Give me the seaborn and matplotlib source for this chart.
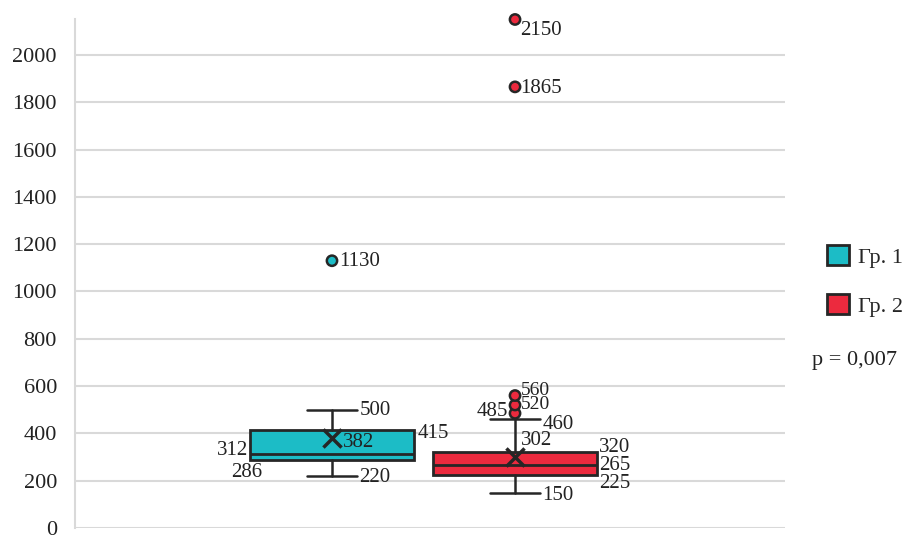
import numpy as np
import pandas as pd
import matplotlib
matplotlib.use("Agg")
import matplotlib.pyplot as plt
import matplotlib.patches as mpatches
import seaborn as sns

groups = ["Гр. 1", "Гр. 2"]
whisker_low = [220, 150]
q1 = [286, 225]
median = [312, 265]
q3 = [415, 320]
whisker_high = [500, 460]
means = [382, 302]
outliers_g1 = [1130]
outliers_g2 = [485, 520, 560, 1865, 2150]
colors = ["#1cbcc6", "#ec2a3e"]
p_text = "p = 0,007"

sns.set_style("white")
plt.rcParams["font.family"] = ["Liberation Serif", "DejaVu Serif"]

fig = plt.figure(figsize=(9.03, 5.36), dpi=100)
ax = fig.add_axes([75 / 903, 8 / 536, 710 / 903, 509 / 536])

stats = []
for i in range(2):
    stats.append(dict(whislo=whisker_low[i], q1=q1[i], med=median[i], q3=q3[i],
                      whishi=whisker_high[i], fliers=[], label=groups[i]))

pos = [0, 1]
bp = ax.bxp(stats, positions=pos, widths=0.9, patch_artist=True, showfliers=False,
            boxprops=dict(edgecolor="#262626", linewidth=2),
            medianprops=dict(color="#262626", linewidth=2),
            whiskerprops=dict(color="#262626", linewidth=1.8),
            capprops=dict(color="#262626", linewidth=1.8),
            capwidths=0.27, zorder=3)
for patch, c in zip(bp["boxes"], colors):
    patch.set_facecolor(c)

out_df = pd.DataFrame({
    "x": [0] * len(outliers_g1) + [1] * len(outliers_g2),
    "y": outliers_g1 + outliers_g2,
    "g": [groups[0]] * len(outliers_g1) + [groups[1]] * len(outliers_g2),
})
sns.scatterplot(data=out_df, x="x", y="y", hue="g", palette=colors, s=55,
                edgecolor="#262626", linewidth=1.8, legend=False, ax=ax, zorder=4,
                clip_on=False)

mean_df = pd.DataFrame({"x": pos, "y": means})
sns.scatterplot(data=mean_df, x="x", y="y", marker="x", s=170, color="#262626",
                linewidth=2.5, legend=False, ax=ax, zorder=5)

fs = 15
lab = dict(fontsize=fs, color="#222222", zorder=6)
small = dict(fontsize=14, color="#222222", zorder=6)
# group 1 labels
ax.text(0.15, whisker_high[0] - 5, "500", ha="left", va="center", **lab)
ax.text(0.47, q3[0] - 15, "415", ha="left", va="center", **lab)
ax.text(0.06, means[0] - 22, "382", ha="left", va="center", **lab)
ax.text(-0.46, median[0] + 15, "312", ha="right", va="center", **lab)
ax.text(-0.38, q1[0] - 50, "286", ha="right", va="center", **lab)
ax.text(0.15, whisker_low[0] - 8, "220", ha="left", va="center", **lab)
ax.text(0.04, outliers_g1[0] - 5, "1130", ha="left", va="center", **lab)
# group 2 labels
ax.text(1.03, 2150 - 45, "2150", ha="left", va="center", **lab)
ax.text(1.03, 1865 - 5, "1865", ha="left", va="center", **lab)
ax.text(1.03, 560 + 22, "560", ha="left", va="center", **small)
ax.text(1.03, 520 + 2, "520", ha="left", va="center", **small)
ax.text(0.96, 485 + 8, "485", ha="right", va="center", **lab)
ax.text(1.15, 460 - 22, "460", ha="left", va="center", **lab)
ax.text(1.03, means[1] + 70, "302", ha="left", va="center", **lab)
ax.text(1.46, q3[1] + 20, "320", ha="left", va="center", **lab)
ax.text(1.46, median[1] - 2, "265", ha="left", va="center", **lab)
ax.text(1.46, q1[1] - 35, "225", ha="left", va="center", **lab)
ax.text(1.15, whisker_low[1] - 13, "150", ha="left", va="center", **lab)

ax.set_xlim(-1.404, 2.475)
ax.set_ylim(0, 2152)
ax.set_yticks(range(0, 2001, 200))
ax.set_xticks([])
ax.set_xlabel("")
ax.set_ylabel("")
ax.tick_params(axis="y", labelsize=16, length=0, pad=13, labelcolor="#222222")
ax.yaxis.grid(True, color="#d9d9d9", linewidth=1.5)
ax.set_axisbelow(True)
for s in ["top", "right", "bottom"]:
    ax.spines[s].set_visible(False)
ax.spines["left"].set_color("#d9d9d9")
ax.spines["left"].set_linewidth(1.5)

handles = [mpatches.Patch(facecolor=c, edgecolor="#262626", linewidth=2, label=g)
           for c, g in zip(colors, groups)]
fig.legend(handles=handles, loc="upper left", bbox_to_anchor=(816 / 903, 1 - 234 / 536),
           frameon=False, fontsize=16, handlelength=1.0, handleheight=1.0,
           handletextpad=0.4, labelspacing=1.2, borderpad=0)
fig.text(812 / 903, 1 - 360 / 536, p_text, fontsize=16, ha="left", va="center",
         color="#222222")

fig.savefig("out.png", dpi=100)
